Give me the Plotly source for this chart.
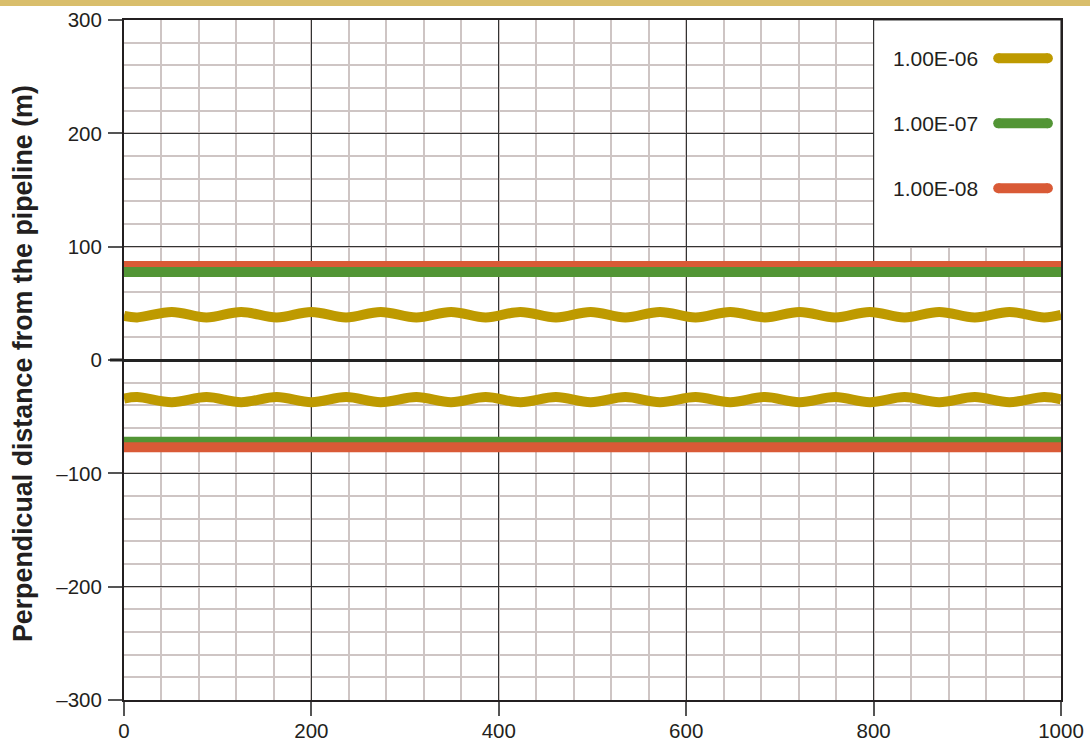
import plotly.graph_objects as go

# ---------------- data ----------------
line_x = [0, 1000]
red_upper_y = [83.0, 83.0]
green_upper_y = [77.6, 77.6]
green_lower_y = [-72.2, -72.2]
red_lower_y = [-77.0, -77.0]

wave_x = [0, 14, 51, 88, 125, 163, 200, 237, 274, 312, 349, 386, 423, 461,
          498, 535, 572, 610, 647, 684, 721, 759, 796, 833, 870, 908, 945,
          982, 1000]
gold_upper_y = [39.0, 37.6, 42.4, 37.6, 42.4, 37.6, 42.4, 37.6, 42.4, 37.6,
                42.4, 37.6, 42.4, 37.6, 42.4, 37.6, 42.4, 37.6, 42.4, 37.6,
                42.4, 37.6, 42.4, 37.6, 42.4, 37.6, 42.4, 37.6, 39.8]
gold_lower_y = [-34.0, -32.6, -37.2, -32.6, -37.2, -32.6, -37.2, -32.6, -37.2,
                -32.6, -37.2, -32.6, -37.2, -32.6, -37.2, -32.6, -37.2, -32.6,
                -37.2, -32.6, -37.2, -32.6, -37.2, -32.6, -37.2, -32.6, -37.2,
                -32.6, -34.7]

legend_labels = ["1.00E-06", "1.00E-07", "1.00E-08"]
legend_y = [266.2, 208.8, 151.5]
legend_swatch_x = [933, 986]

x_ticks = [0, 200, 400, 600, 800, 1000]
y_ticks = [-300, -200, -100, 0, 100, 200, 300]

# ---------------- styles ----------------
GOLD = "#BE9A00"
GREEN = "#529535"
RED = "#D95A36"
legend_colors = [GOLD, GREEN, RED]
FONT = "Liberation Sans, Arial, Helvetica, sans-serif"
TXT = "#231F20"
LW = 10

fig = go.Figure()

# contour lines (draw order controls overlaps)
fig.add_trace(go.Scatter(x=line_x, y=red_upper_y, mode="lines",
                         line=dict(color=RED, width=LW), showlegend=False, hoverinfo="skip"))
fig.add_trace(go.Scatter(x=line_x, y=green_upper_y, mode="lines",
                         line=dict(color=GREEN, width=LW), showlegend=False, hoverinfo="skip"))
fig.add_trace(go.Scatter(x=line_x, y=green_lower_y, mode="lines",
                         line=dict(color=GREEN, width=LW), showlegend=False, hoverinfo="skip"))
fig.add_trace(go.Scatter(x=line_x, y=red_lower_y, mode="lines",
                         line=dict(color=RED, width=LW), showlegend=False, hoverinfo="skip"))
fig.add_trace(go.Scatter(x=wave_x, y=gold_upper_y, mode="lines",
                         line=dict(color=GOLD, width=LW, shape="spline", smoothing=1.0),
                         showlegend=False, hoverinfo="skip"))
fig.add_trace(go.Scatter(x=wave_x, y=gold_lower_y, mode="lines",
                         line=dict(color=GOLD, width=LW, shape="spline", smoothing=1.0),
                         showlegend=False, hoverinfo="skip"))

# custom legend swatches (with round-looking caps via markers)
for lab, ly, col in zip(legend_labels, legend_y, legend_colors):
    fig.add_trace(go.Scatter(x=legend_swatch_x, y=[ly, ly], mode="lines+markers",
                             line=dict(color=col, width=LW),
                             marker=dict(color=col, size=LW, line=dict(width=0)),
                             showlegend=False, hoverinfo="skip"))
    fig.add_annotation(x=914, y=ly, xref="x", yref="y", text=lab, showarrow=False,
                       xanchor="right", yanchor="middle",
                       font=dict(family=FONT, size=21, color=TXT))

# white legend box covering the grid
fig.add_shape(type="rect", xref="x", yref="y", x0=800, x1=1000, y0=100, y1=300,
              fillcolor="white", line=dict(color="#333333", width=1.2), layer="between")

# zero tick emphasised
fig.add_shape(type="line", xref="paper", yref="y", x0=-14 / 937, x1=0, y0=0, y1=0,
              line=dict(color="#222222", width=3), layer="above")

# top gold band
fig.add_shape(type="rect", xref="paper", yref="paper",
              x0=-124 / 937, x1=1 + 29 / 937, y0=1 + 14 / 680, y1=1 + 20 / 680,
              fillcolor="#D9BE6C", line=dict(width=0), layer="above")

# y axis title
fig.add_annotation(xref="paper", yref="paper", x=-101 / 937, y=0.494,
                   text="<b>Perpendicual distance from the pipeline (m)</b>",
                   textangle=-90, showarrow=False, xanchor="center", yanchor="middle",
                   font=dict(family=FONT, size=26.8, color=TXT))

fig.update_layout(
    width=1090, height=741,
    margin=dict(l=124, r=29, t=20, b=41, autoexpand=False),
    paper_bgcolor="white", plot_bgcolor="white",
    showlegend=False,
    font=dict(family=FONT, size=21, color=TXT),
)

fig.update_xaxes(
    range=[0, 1000], tickvals=x_ticks, ticktext=[str(v) for v in x_ticks],
    showgrid=True, gridcolor="#333333", gridwidth=1.2,
    minor=dict(dtick=40, showgrid=True, gridcolor="#CEC5C4", gridwidth=1.5, ticks=""),
    showline=True, linecolor="#231F20", linewidth=2, mirror=True,
    ticks="outside", ticklen=14, tickwidth=1.5, tickcolor="#555555",
    zeroline=False, tickfont=dict(family=FONT, size=20.5, color=TXT),
    ticklabelstandoff=-3,
    automargin=False, fixedrange=True,
)
fig.update_yaxes(
    range=[-300, 300], tickvals=y_ticks,
    ticktext=[("\u2013" + str(-v)) if v < 0 else str(v) for v in y_ticks],
    showgrid=True, gridcolor="#333333", gridwidth=1.2,
    minor=dict(dtick=20, showgrid=True, gridcolor="#CEC5C4", gridwidth=1.5, ticks=""),
    showline=True, linecolor="#231F20", linewidth=2, mirror=True,
    ticks="outside", ticklen=14, tickwidth=1.5, tickcolor="#555555",
    zeroline=True, zerolinecolor="#222222", zerolinewidth=3,
    tickfont=dict(family=FONT, size=20.5, color=TXT),
    ticklabelstandoff=2,
    automargin=False, fixedrange=True,
)

fig.write_html("out.html")
